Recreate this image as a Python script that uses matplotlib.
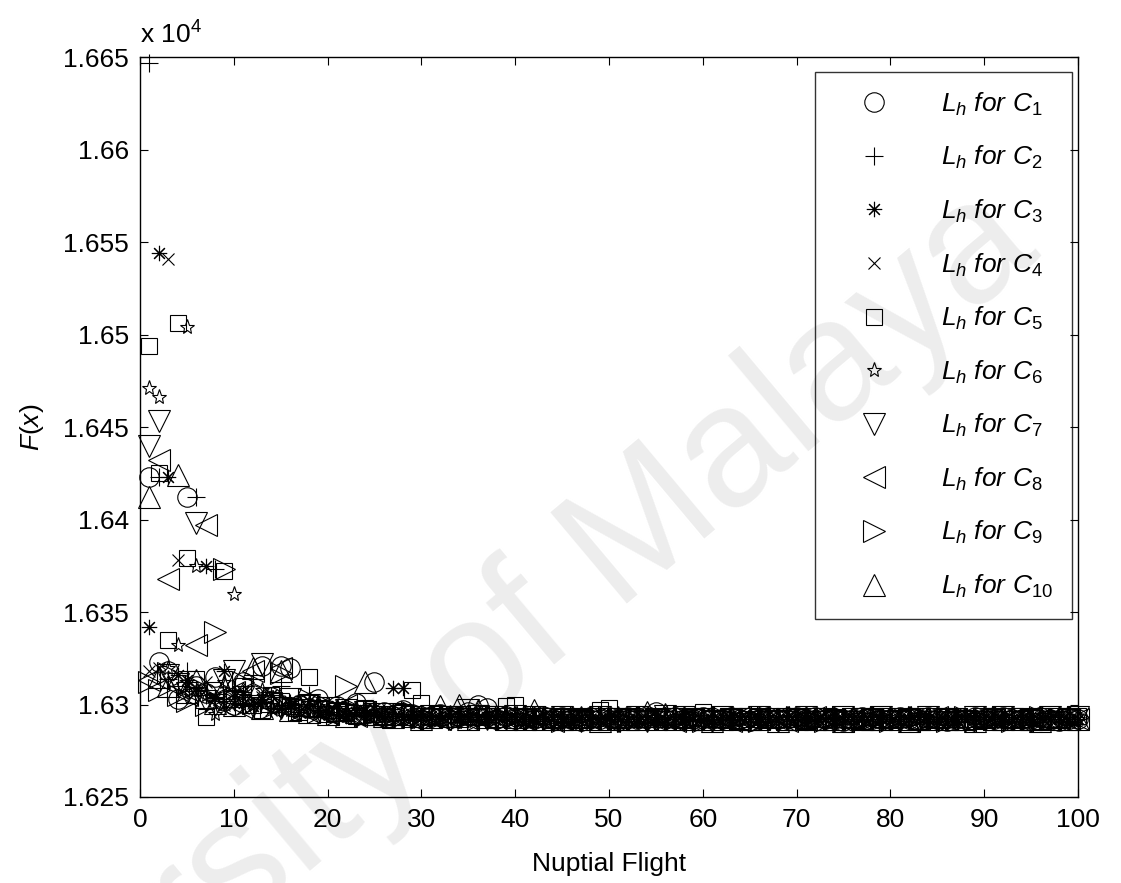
import numpy as np
import matplotlib.pyplot as plt
from matplotlib.ticker import FuncFormatter

plt.rcParams['font.family'] = ['Liberation Sans', 'DejaVu Sans']
plt.rcParams['mathtext.fontset'] = 'custom'
plt.rcParams['mathtext.rm'] = 'Liberation Sans'
plt.rcParams['mathtext.it'] = 'Liberation Sans:italic'

# Nuptial flight number
flights = np.arange(1, 101)

# F(x) of each colony per nuptial flight
c1 = [16423, 16323, 16318, 16303, 16412, 16310, 16306, 16315, 16302, 16300,
      16312, 16305, 16321, 16304, 16321, 16320, 16300, 16298, 16303, 16297,
      16299, 16296, 16301, 16295, 16312, 16296, 16294, 16297, 16295, 16294,
      16293, 16295, 16293, 16294, 16296, 16300, 16298, 16292, 16294, 16292,
      16293, 16292, 16294, 16292, 16293, 16292, 16291, 16293, 16292, 16293,
      16292, 16293, 16292, 16294, 16296, 16292, 16293, 16292, 16292, 16293,
      16292, 16292, 16293, 16292, 16291, 16292, 16293, 16292, 16292, 16293,
      16292, 16293, 16292, 16292, 16291, 16292, 16293, 16292, 16292, 16292,
      16293, 16292, 16292, 16293, 16292, 16291, 16292, 16292, 16293, 16292,
      16292, 16293, 16292, 16292, 16292, 16293, 16292, 16291, 16292, 16292]
c2 = [16647, 16423, 16314, 16310, 16318, 16412, 16305, 16373, 16302, 16308,
      16300, 16316, 16303, 16298, 16310, 16301, 16296, 16305, 16299, 16296,
      16298, 16295, 16297, 16294, 16296, 16293, 16295, 16294, 16292, 16294,
      16293, 16292, 16294, 16293, 16292, 16293, 16294, 16292, 16293, 16292,
      16292, 16293, 16292, 16291, 16292, 16293, 16292, 16292, 16293, 16292,
      16291, 16292, 16293, 16292, 16292, 16293, 16292, 16292, 16291, 16292,
      16293, 16292, 16292, 16293, 16292, 16292, 16291, 16293, 16292, 16292,
      16293, 16292, 16292, 16292, 16293, 16291, 16292, 16292, 16293, 16292,
      16292, 16292, 16293, 16292, 16291, 16292, 16293, 16292, 16292, 16293,
      16292, 16291, 16292, 16293, 16292, 16292, 16293, 16292, 16292, 16292]
c3 = [16342, 16544, 16423, 16316, 16313, 16309, 16375, 16304, 16318, 16301,
      16307, 16299, 16303, 16305, 16298, 16300, 16296, 16302, 16297, 16295,
      16299, 16294, 16296, 16297, 16295, 16294, 16309, 16309, 16295, 16293,
      16294, 16292, 16293, 16294, 16292, 16293, 16292, 16294, 16293, 16292,
      16291, 16292, 16293, 16292, 16292, 16291, 16293, 16292, 16292, 16293,
      16292, 16292, 16291, 16292, 16293, 16292, 16292, 16293, 16292, 16291,
      16292, 16293, 16292, 16292, 16292, 16293, 16291, 16292, 16292, 16293,
      16292, 16291, 16292, 16293, 16292, 16292, 16292, 16293, 16292, 16291,
      16292, 16292, 16293, 16292, 16292, 16291, 16292, 16293, 16292, 16292,
      16293, 16292, 16291, 16292, 16292, 16293, 16292, 16292, 16291, 16292]
c4 = [16318, 16320, 16541, 16378, 16310, 16307, 16312, 16303, 16300, 16306,
      16298, 16301, 16304, 16297, 16299, 16302, 16296, 16298, 16295, 16297,
      16294, 16296, 16293, 16295, 16294, 16296, 16293, 16294, 16292, 16293,
      16292, 16294, 16293, 16292, 16293, 16292, 16293, 16294, 16292, 16293,
      16292, 16292, 16291, 16293, 16292, 16292, 16293, 16292, 16291, 16292,
      16293, 16292, 16292, 16292, 16293, 16291, 16292, 16292, 16293, 16292,
      16292, 16291, 16292, 16293, 16292, 16292, 16292, 16291, 16293, 16292,
      16292, 16293, 16292, 16291, 16292, 16292, 16293, 16292, 16292, 16291,
      16293, 16292, 16292, 16292, 16291, 16293, 16292, 16292, 16292, 16293,
      16291, 16292, 16292, 16293, 16292, 16291, 16292, 16293, 16292, 16292]
c5 = [16494, 16425, 16335, 16506, 16379, 16314, 16293, 16308, 16372, 16303,
      16310, 16300, 16297, 16305, 16302, 16299, 16296, 16315, 16298, 16295,
      16297, 16296, 16294, 16298, 16295, 16294, 16293, 16296, 16308, 16301,
      16294, 16293, 16295, 16292, 16294, 16293, 16295, 16292, 16299, 16300,
      16293, 16292, 16294, 16292, 16293, 16292, 16293, 16292, 16297, 16298,
      16292, 16293, 16292, 16292, 16293, 16292, 16294, 16292, 16293, 16296,
      16292, 16292, 16293, 16291, 16292, 16293, 16292, 16292, 16292, 16293,
      16291, 16292, 16292, 16293, 16292, 16292, 16291, 16293, 16292, 16292,
      16292, 16293, 16291, 16292, 16292, 16293, 16292, 16292, 16291, 16292,
      16293, 16292, 16292, 16292, 16293, 16291, 16292, 16292, 16293, 16294]
c6 = [16471, 16466, 16320, 16332, 16504, 16375, 16305, 16295, 16312, 16360,
      16303, 16300, 16308, 16298, 16302, 16297, 16301, 16296, 16299, 16295,
      16297, 16294, 16296, 16295, 16293, 16295, 16294, 16292, 16293, 16294,
      16292, 16293, 16292, 16294, 16293, 16292, 16293, 16292, 16294, 16292,
      16292, 16293, 16292, 16292, 16291, 16292, 16293, 16292, 16292, 16292,
      16293, 16291, 16292, 16292, 16293, 16292, 16292, 16292, 16291, 16293,
      16292, 16292, 16293, 16292, 16291, 16292, 16292, 16293, 16292, 16292,
      16291, 16292, 16293, 16292, 16292, 16292, 16291, 16292, 16293, 16292,
      16292, 16293, 16292, 16291, 16292, 16292, 16292, 16293, 16292, 16291,
      16292, 16292, 16293, 16292, 16292, 16291, 16293, 16292, 16292, 16292]
c7 = [16440, 16453, 16316, 16311, 16306, 16398, 16302, 16300, 16313, 16318,
      16304, 16299, 16322, 16301, 16298, 16303, 16297, 16300, 16296, 16298,
      16295, 16297, 16294, 16296, 16295, 16293, 16295, 16294, 16293, 16292,
      16294, 16293, 16292, 16293, 16297, 16294, 16292, 16293, 16292, 16294,
      16292, 16293, 16292, 16292, 16293, 16292, 16291, 16292, 16293, 16292,
      16292, 16292, 16293, 16291, 16292, 16294, 16292, 16293, 16292, 16292,
      16291, 16293, 16292, 16292, 16292, 16293, 16292, 16291, 16292, 16292,
      16293, 16292, 16292, 16291, 16293, 16292, 16292, 16292, 16293, 16292,
      16291, 16292, 16292, 16293, 16292, 16292, 16292, 16291, 16293, 16292,
      16292, 16293, 16292, 16292, 16291, 16292, 16293, 16292, 16292, 16293]
c8 = [16313, 16432, 16368, 16309, 16305, 16332, 16397, 16303, 16300, 16307,
      16298, 16318, 16302, 16299, 16320, 16297, 16301, 16296, 16298, 16295,
      16297, 16300, 16294, 16296, 16293, 16295, 16294, 16293, 16292, 16294,
      16293, 16292, 16293, 16294, 16292, 16293, 16292, 16294, 16293, 16292,
      16292, 16293, 16292, 16291, 16292, 16292, 16293, 16292, 16292, 16291,
      16292, 16293, 16292, 16292, 16293, 16292, 16291, 16292, 16292, 16293,
      16292, 16292, 16291, 16293, 16292, 16292, 16292, 16293, 16291, 16292,
      16292, 16293, 16292, 16292, 16291, 16292, 16293, 16292, 16292, 16292,
      16293, 16291, 16292, 16292, 16293, 16292, 16292, 16291, 16292, 16293,
      16292, 16292, 16292, 16291, 16293, 16292, 16292, 16293, 16292, 16292]
c9 = [16312, 16308, 16317, 16305, 16302, 16310, 16300, 16339, 16373, 16304,
      16312, 16301, 16306, 16298, 16317, 16300, 16297, 16303, 16296, 16299,
      16295, 16310, 16297, 16294, 16296, 16295, 16293, 16294, 16296, 16293,
      16292, 16294, 16293, 16292, 16293, 16292, 16294, 16293, 16292, 16293,
      16292, 16292, 16293, 16292, 16291, 16292, 16293, 16292, 16292, 16293,
      16292, 16291, 16292, 16293, 16292, 16292, 16292, 16293, 16292, 16291,
      16292, 16293, 16292, 16292, 16292, 16291, 16293, 16292, 16292, 16293,
      16292, 16292, 16291, 16292, 16293, 16292, 16292, 16292, 16293, 16291,
      16292, 16292, 16293, 16292, 16292, 16291, 16292, 16293, 16292, 16292,
      16292, 16293, 16291, 16292, 16292, 16293, 16292, 16292, 16292, 16293]
c10 = [16412, 16315, 16310, 16424, 16307, 16313, 16304, 16301, 16309, 16300,
       16306, 16320, 16298, 16302, 16318, 16297, 16300, 16296, 16299, 16295,
       16297, 16294, 16296, 16312, 16295, 16294, 16293, 16295, 16294, 16292,
       16293, 16299, 16294, 16300, 16292, 16297, 16293, 16294, 16292, 16293,
       16292, 16297, 16292, 16293, 16292, 16292, 16293, 16292, 16291, 16292,
       16293, 16292, 16292, 16296, 16292, 16295, 16292, 16293, 16292, 16292,
       16291, 16292, 16293, 16292, 16292, 16292, 16293, 16291, 16292, 16292,
       16293, 16292, 16292, 16292, 16291, 16293, 16292, 16292, 16292, 16293,
       16292, 16291, 16292, 16292, 16293, 16292, 16292, 16292, 16291, 16293,
       16292, 16292, 16293, 16292, 16292, 16291, 16292, 16293, 16292, 16292]

series = [c1, c2, c3, c4, c5, c6, c7, c8, c9, c10]
labels = [r'$L_h$ for $C_{\mathit{%d}}$' % i for i in range(1, 11)]
markers = ['o', '+', (8, 2, 0), 'x', 's', '*', 'v', '<', '>', '^']
sizes = [14, 13, 11, 8, 12, 11, 16, 16, 16, 16]

fig = plt.figure(figsize=(11.21, 8.83), dpi=100)
ax = fig.add_axes([0.1249, 0.0974, 0.8367, 0.838])
ax.set_facecolor('none')

# watermark
fig.text(0.374, 0.185, 'University of Malaya', fontsize=124, color='#ededed',
         rotation=40, ha='center', va='center', rotation_mode='anchor', zorder=-5)

for vals, m, s, lab in zip(series, markers, sizes, labels):
    ax.plot(flights, vals, linestyle='none', marker=m, markersize=s,
            markerfacecolor='none', markeredgecolor='k', markeredgewidth=0.8,
            label=lab, clip_on=False)

ax.set_xlim(0, 100)
ax.set_ylim(16250, 16650)
ax.set_xticks(range(0, 101, 10))
ax.set_yticks(np.arange(16250, 16651, 50))
ax.yaxis.set_major_formatter(FuncFormatter(lambda v, p: ('%.3f' % (v / 1e4)).rstrip('0')))
ax.tick_params(direction='in', length=6, width=0.8, labelsize=19, top=True, right=True, pad=8)
for sp in ax.spines.values():
    sp.set_linewidth(1.0)

ax.text(0, 1.012, r'x 10$^{4}$', transform=ax.transAxes, fontsize=19, ha='left', va='bottom')
ax.set_xlabel('Nuptial Flight', fontsize=19, labelpad=14)
ax.set_ylabel('$F(x)$', fontsize=19, labelpad=12)

leg = ax.legend(loc='upper right', bbox_to_anchor=(0.9936, 0.9797),
                prop={'style': 'italic', 'size': 19}, frameon=True, fancybox=False,
                edgecolor='k', facecolor='none', borderpad=0.7, labelspacing=1.0,
                handlelength=3.06, handletextpad=1.04, borderaxespad=0)
leg.get_frame().set_linewidth(1.0)

fig.savefig('out.png', dpi=100)
